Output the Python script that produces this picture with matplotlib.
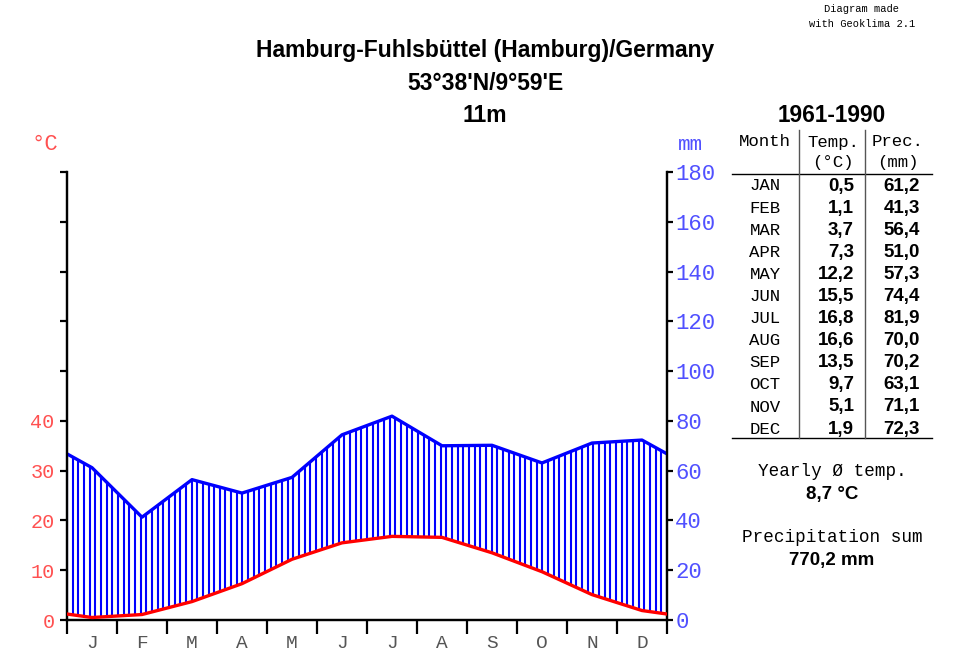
import numpy as np
import matplotlib
matplotlib.use("Agg")
import matplotlib.pyplot as plt

# Hamburg-Fuhlsbuettel 1961-1990
months = ["JAN", "FEB", "MAR", "APR", "MAY", "JUN", "JUL", "AUG", "SEP", "OCT", "NOV", "DEC"]
month_letters = ["J", "F", "M", "A", "M", "J", "J", "A", "S", "O", "N", "D"]
temp = [0.5, 1.1, 3.7, 7.3, 12.2, 15.5, 16.8, 16.6, 13.5, 9.7, 5.1, 1.9]
prec = [61.2, 41.3, 56.4, 51.0, 57.3, 74.4, 81.9, 70.0, 70.2, 63.1, 71.1, 72.3]
yearly_temp = "8,7 °C"
prec_sum = "770,2 mm"

mono = "Liberation Mono"
sans = "Liberation Sans"
red_lbl = "#ff5050"
blue_lbl = "#5050ff"

# line goes edge to edge, year boundary = mean of dec/jan
x = np.concatenate([[0], np.arange(12) + 0.5, [12]])
t_edge = (temp[0] + temp[-1]) / 2
p_edge = (prec[0] + prec[-1]) / 2
t_line = np.concatenate([[t_edge], temp, [t_edge]])
p_line = np.concatenate([[p_edge], prec, [p_edge]])

fig = plt.figure(figsize=(9.6, 6.58), dpi=100)
W, H = 960, 658
ax = fig.add_axes([67 / W, (H - 620) / H, 600 / W, 448 / H])
ax2 = ax.twinx()

ax.set_xlim(0, 12)
ax.set_ylim(0, 90)
ax2.set_ylim(0, 180)

# humid hatching (vertical lines between temp and precip), in mm units
xs = np.arange(0, 12.0001, 12 / 106)
lo = np.interp(xs, x, t_line * 2)
hi = np.interp(xs, x, p_line)
ax2.vlines(xs, lo, hi, color="#0000ff", lw=1.5, zorder=2)

ax2.plot(x, p_line, color="#0000ff", lw=2.4, zorder=3)
ax.plot(x, t_line, color="#ff0000", lw=2.4, zorder=4)
ax.set_zorder(ax2.get_zorder() + 1)
ax.patch.set_visible(False)

for a in (ax, ax2):
    a.spines["top"].set_visible(False)
    for s in ("left", "bottom", "right"):
        a.spines[s].set_linewidth(1.6)

ax.set_yticks(np.arange(0, 91, 10))
ax.set_yticklabels([str(v) if v <= 40 else "" for v in range(0, 91, 10)],
                   family=mono, color=red_lbl, fontsize=14.5)
ax.tick_params(axis="y", direction="out", length=5, width=1.6, pad=4)

ax2.set_yticks(np.arange(0, 181, 20))
ax2.set_yticklabels([str(v) for v in range(0, 181, 20)], family=mono,
                    color=blue_lbl, fontsize=16)
ax2.tick_params(axis="y", direction="out", length=4, width=1.6, pad=2)

ax.set_xticks(np.arange(13))
ax.set_xticklabels([])
ax.set_xticks(np.arange(12) + 0.5, minor=True)
ax.set_xticklabels(month_letters, minor=True, family=mono, color="#555555", fontsize=14)
ax.tick_params(axis="x", which="major", direction="out", length=10, width=1.6)
ax.tick_params(axis="x", which="minor", length=0, pad=11)
ax2.tick_params(axis="x", length=0)

fig.text(45 / W, 1 - 144 / H, "°C", family=mono, color=red_lbl, fontsize=16,
         ha="center", va="center")
fig.text(690 / W, 1 - 144 / H, "mm", family=mono, color=blue_lbl, fontsize=15,
         ha="center", va="center")

# titles
fig.text(485 / W, 1 - 50 / H, "Hamburg-Fuhlsbüttel (Hamburg)/Germany", family=sans,
         weight="bold", fontsize=16.5, ha="center", va="center")
fig.text(485 / W, 1 - 84 / H, "53°38'N/9°59'E", family=sans, weight="bold",
         fontsize=16.5, ha="center", va="center")
fig.text(485 / W, 1 - 116 / H, "11m", family=sans, weight="bold", fontsize=16.5,
         ha="center", va="center")
fig.text(862 / W, 1 - 9 / H, "Diagram made", family=mono, fontsize=7.5,
         ha="center", va="center")
fig.text(862 / W, 1 - 24 / H, "with Geoklima 2.1", family=mono, fontsize=7.5,
         ha="center", va="center")

# table
fig.text(832 / W, 1 - 116 / H, "1961-1990", family=sans, weight="bold", fontsize=16.3,
         ha="center", va="center")
fig.text(765 / W, 1 - 142 / H, "Month", family=mono, fontsize=12.5, ha="center", va="center")
fig.text(833 / W, 1 - 142 / H, "Temp.", family=mono, fontsize=12.5, ha="center", va="center")
fig.text(898 / W, 1 - 142 / H, "Prec.", family=mono, fontsize=12.5, ha="center", va="center")
fig.text(833 / W, 1 - 163 / H, "(°C)", family=mono, fontsize=12.5, ha="center", va="center")
fig.text(898 / W, 1 - 163 / H, "(mm)", family=mono, fontsize=12.5, ha="center", va="center")

for i, m in enumerate(months):
    y = 1 - (186 + i * 22.1) / H
    fig.text(765 / W, y, m, family=mono, fontsize=12.5, ha="center", va="center")
    fig.text(854 / W, y, f"{temp[i]:.1f}".replace(".", ","), family=sans,
             weight="bold", fontsize=13.5, ha="right", va="center")
    fig.text(920 / W, y, f"{prec[i]:.1f}".replace(".", ","), family=sans,
             weight="bold", fontsize=13.5, ha="right", va="center")

line_kw = dict(color="black", lw=1, transform=fig.transFigure)
fig.add_artist(plt.Line2D([732 / W, 932 / W], [1 - 174 / H, 1 - 174 / H], **line_kw))
fig.add_artist(plt.Line2D([732 / W, 932 / W], [1 - 438 / H, 1 - 438 / H], **line_kw))
fig.add_artist(plt.Line2D([799 / W, 799 / W], [1 - 130 / H, 1 - 438 / H],
                          color="#555555", lw=1, transform=fig.transFigure))
fig.add_artist(plt.Line2D([865 / W, 865 / W], [1 - 130 / H, 1 - 438 / H],
                          color="#555555", lw=1, transform=fig.transFigure))

fig.text(832 / W, 1 - 472 / H, "Yearly Ø temp.", family=mono, fontsize=12.7,
         ha="center", va="center")
fig.text(832 / W, 1 - 494 / H, yearly_temp, family=sans, weight="bold", fontsize=13.5,
         ha="center", va="center")
fig.text(832 / W, 1 - 538 / H, "Precipitation sum", family=mono, fontsize=12.7,
         ha="center", va="center")
fig.text(832 / W, 1 - 560 / H, prec_sum, family=sans, weight="bold", fontsize=13.5,
         ha="center", va="center")

fig.savefig("out.png", dpi=100)
